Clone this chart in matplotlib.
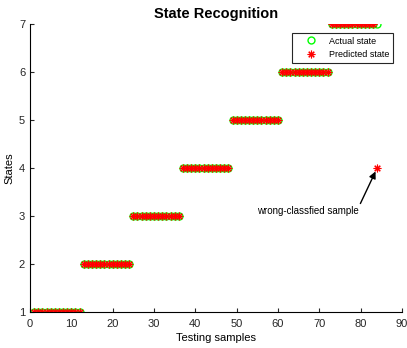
import numpy as np
import matplotlib
matplotlib.use('Agg')
import matplotlib.pyplot as plt

plt.rcParams['font.family'] = ['Liberation Sans', 'DejaVu Sans']

# 84 test samples, 12 per state
states = [1, 2, 3, 4, 5, 6, 7]
per_state = [12, 12, 12, 12, 12, 12, 12]
actual = np.repeat(states, per_state)
samples = np.arange(1, len(actual) + 1)
predicted = actual.copy()
wrong_idx = 83          # sample 84
wrong_value = 4
predicted[wrong_idx] = wrong_value

fig = plt.figure(figsize=(4.07, 3.48), dpi=100)
ax = fig.add_axes([0.0737, 0.103, 0.914, 0.828])

ax.plot(samples, actual, 'o', mfc='none', mec='#00ff00', ms=5, mew=1.0,
        label='Actual state')
# matlab-like asterisk (8 spokes)
ax.plot(samples, predicted, marker=(8, 2, 0), ls='none', color='#ff0000',
        ms=5.5, mew=0.8, label='Predicted state')

ax.set_xlim(0, 90)
ax.set_ylim(1, 7)
ax.set_xticks(np.arange(0, 91, 10))
ax.set_yticks(np.arange(1, 8, 1))
ax.tick_params(direction='in', labelsize=8, length=3, colors='#262626')
ax.tick_params(axis='x', pad=5)
for s in ['top', 'right']:
    ax.spines[s].set_visible(False)

ax.set_title('State Recognition', fontsize=10.5, fontweight='bold', pad=4)
ax.set_xlabel('Testing samples', fontsize=8, labelpad=3)
ax.set_ylabel('States', fontsize=8, labelpad=3)

leg = ax.legend(loc='upper right', bbox_to_anchor=(0.976, 0.969), fontsize=6.5,
                fancybox=False, edgecolor='#262626', framealpha=1,
                borderaxespad=0, borderpad=0.4, handlelength=3.3,
                handletextpad=0.4, labelspacing=0.5)
leg.get_frame().set_linewidth(0.8)

ax.annotate('wrong-classfied sample', xy=(83.6, 3.93), xytext=(55, 3.1),
            fontsize=7, ha='left', va='center',
            arrowprops=dict(arrowstyle='-|>', color='black', lw=1.0,
                            shrinkA=0, shrinkB=0, mutation_scale=10,
                            relpos=(1.0, 1.0)))

plt.savefig('out.png', dpi=100)
plt.close()
